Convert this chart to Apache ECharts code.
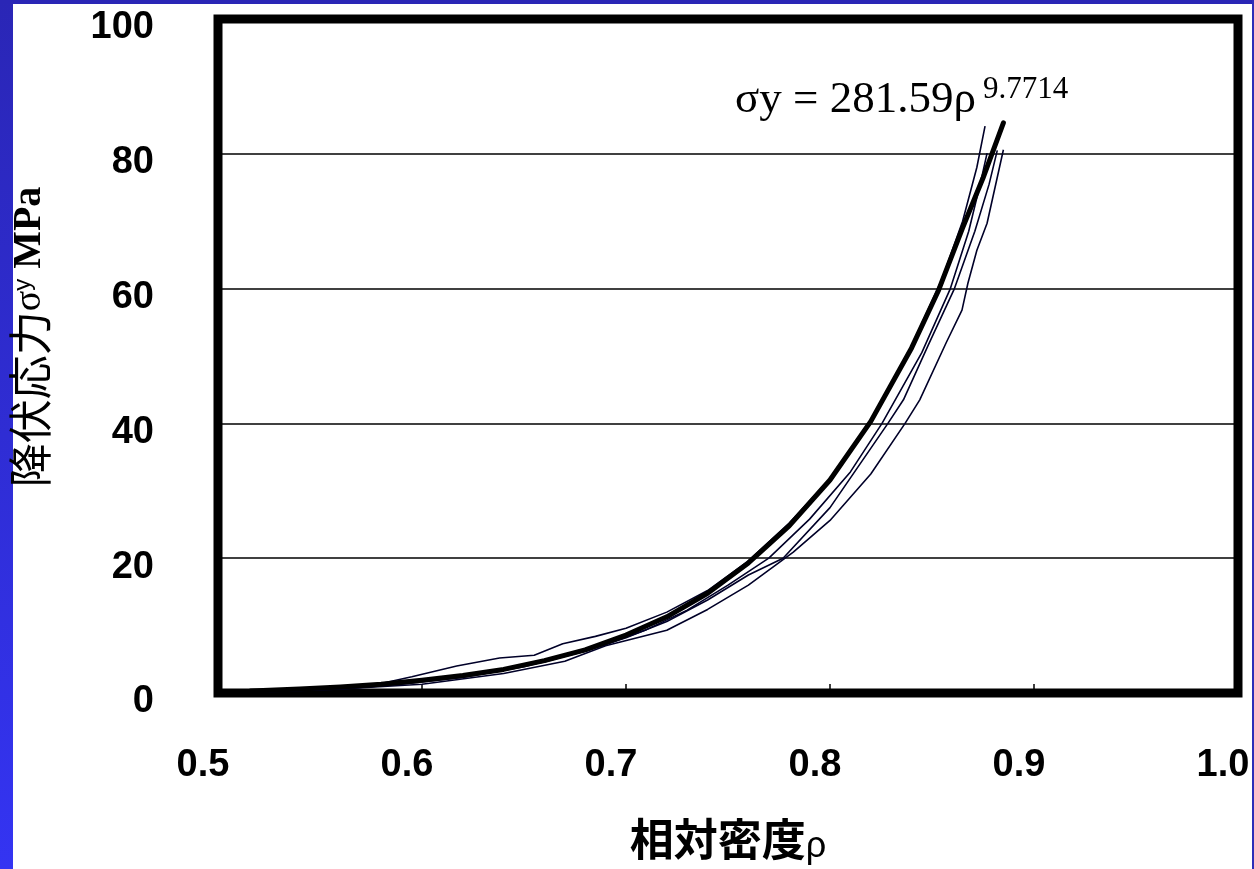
<!DOCTYPE html>
<html>
<head>
<meta charset="utf-8">
<title>降伏応力 - 相対密度</title>
<script src="https://cdn.jsdelivr.net/npm/echarts/dist/echarts.min.js"></script>
<style>
  html, body { margin: 0; padding: 0; background: #fff; }
  #chart { width: 1254px; height: 869px; }
</style>
</head>
<body>
<div id="chart"></div>
<script>
  // 軸の目盛
  var xTicks = [0.5, 0.6, 0.7, 0.8, 0.9, 1.0];
  var yTicks = [0, 20, 40, 60, 80, 100];

  // 近似曲線 (太線)
  var rhoFit = [0.516, 0.54, 0.56, 0.58, 0.60, 0.62, 0.64, 0.66, 0.68, 0.70, 0.72, 0.74, 0.76, 0.78, 0.80, 0.82, 0.84, 0.853, 0.865, 0.875, 0.885];
  var sigmaFit = [0.3, 0.6, 0.9, 1.3, 1.9, 2.6, 3.5, 4.8, 6.4, 8.6, 11.3, 14.8, 19.3, 24.8, 31.6, 40.3, 51.2, 59.6, 69, 76.4, 84.6];

  // 試験片ごとの測定値 (細線)
  var rho1 = [0.53, 0.56, 0.58, 0.595, 0.617, 0.638, 0.655, 0.669, 0.685, 0.70, 0.72, 0.74, 0.76, 0.78, 0.80, 0.82, 0.84, 0.855, 0.865, 0.872, 0.876];
  var sigma1 = [0.3, 0.8, 1.4, 2.4, 4.0, 5.2, 5.6, 7.3, 8.4, 9.6, 12.0, 15.2, 19.6, 25.2, 31.8, 40.5, 51.5, 61.5, 70, 78, 84.1];

  var rho2 = [0.52, 0.55, 0.58, 0.60, 0.63, 0.66, 0.69, 0.71, 0.73, 0.75, 0.77, 0.79, 0.81, 0.8255, 0.845, 0.859, 0.868, 0.874, 0.877];
  var sigma2 = [0.2, 0.5, 1.1, 1.7, 3.0, 4.6, 7.2, 9.4, 12.3, 16.0, 20, 25.8, 32.8, 40, 50.5, 60, 68.5, 76, 80.1];

  var rho3 = [0.525, 0.56, 0.59, 0.62, 0.65, 0.68, 0.70, 0.72, 0.74, 0.76, 0.777, 0.80, 0.8284, 0.836, 0.848, 0.861, 0.871, 0.878, 0.882];
  var sigma3 = [0.2, 0.6, 1.3, 2.3, 3.9, 6.2, 8.2, 10.6, 13.8, 17.5, 20, 27.5, 40, 43.5, 51.5, 60, 68.5, 75.5, 80.5];

  var rho4 = [0.52, 0.56, 0.60, 0.64, 0.67, 0.69, 0.72, 0.74, 0.76, 0.782, 0.80, 0.82, 0.8368, 0.844, 0.857, 0.8647, 0.8676, 0.872, 0.877, 0.885];
  var sigma4 = [0.2, 0.6, 1.3, 2.9, 4.7, 7.0, 9.3, 12.4, 16.0, 20.9, 25.6, 32.5, 40, 43.5, 52, 56.8, 60.8, 65.7, 69.7, 80.6];

  function pairs(xs, ys) {
    return xs.map(function (x, i) { return [x, ys[i]]; });
  }

  function thinLine(name, xs, ys) {
    return {
      name: name,
      type: 'line',
      showSymbol: false,
      silent: true,
      lineStyle: { color: '#000028', width: 1.6 },
      data: pairs(xs, ys)
    };
  }

  var labelFont = {
    fontSize: 38,
    fontWeight: 'bold',
    color: '#000',
    fontFamily: 'Liberation Sans'
  };

  var myChart = echarts.init(document.getElementById('chart'));

  var options = {
    backgroundColor: '#fff',
    animation: false,
    grid: {
      left: 218,
      right: 16,
      top: 19,
      bottom: 176,
      show: true,
      borderWidth: 9,
      borderColor: '#000',
      backgroundColor: 'transparent',
      outerBoundsMode: 'none'
    },
    xAxis: {
      type: 'value',
      min: xTicks[0],
      max: xTicks[xTicks.length - 1],
      interval: 0.1,
      name: '{a|相対密度}{b|ρ}',
      nameLocation: 'middle',
      nameGap: 120,
      nameTextStyle: {
        rich: {
          a: { fontSize: 44, fontWeight: 'bold', color: '#000', fontFamily: 'Noto Sans CJK JP' },
          b: { fontSize: 36, color: '#000', fontFamily: 'Liberation Sans', padding: [16, 0, 0, 0] }
        }
      },
      axisLine: { show: false },
      axisTick: {
        show: true,
        inside: true,
        length: 9,
        lineStyle: { color: '#000', width: 1.5 }
      },
      splitLine: { show: false },
      axisLabel: {
        margin: 54,
        formatter: function (v) { return '{v|' + v.toFixed(1) + '}'; },
        rich: {
          v: Object.assign({ padding: [0, 30, 0, 0] }, labelFont)
        }
      }
    },
    yAxis: {
      type: 'value',
      min: yTicks[0],
      max: yTicks[yTicks.length - 1],
      interval: 20,
      name: '{a|降伏応力}{b|σ}{c|y}{d| MPa}',
      nameLocation: 'middle',
      nameGap: 166,
      nameTextStyle: {
        rich: {
          a: { fontSize: 44, color: '#000', fontFamily: 'Noto Sans CJK JP', padding: [0, 0, 0, 38] },
          b: { fontSize: 38, color: '#000', fontFamily: 'Liberation Serif' },
          c: { fontSize: 24, color: '#000', fontFamily: 'Liberation Sans', padding: [0, 0, 14, 0] },
          d: { fontSize: 40, fontWeight: 'bold', color: '#000', fontFamily: 'Liberation Serif' }
        }
      },
      axisLine: { show: false },
      axisTick: { show: false },
      splitLine: {
        show: true,
        lineStyle: { color: '#000', width: 1.5 }
      },
      axisLabel: {
        margin: 64,
        formatter: function (v) { return '{v|' + v + '}'; },
        rich: {
          v: Object.assign({ padding: [18, 0, 0, 0] }, labelFont)
        }
      }
    },
    graphic: [
      // 左と上の青い縁
      {
        type: 'rect',
        silent: true,
        shape: { x: 0, y: 0, width: 13, height: 869 },
        style: {
          fill: new echarts.graphic.LinearGradient(0, 0, 0, 1, [
            { offset: 0, color: '#2a26b6' },
            { offset: 1, color: '#3434f2' }
          ])
        }
      },
      {
        type: 'rect',
        silent: true,
        shape: { x: 0, y: 0, width: 1254, height: 4 },
        style: { fill: '#2a26b6' }
      },
      {
        type: 'rect',
        silent: true,
        shape: { x: 1252, y: 0, width: 2, height: 869 },
        style: { fill: '#2e2eb8' }
      },
      // 近似式
      {
        type: 'text',
        left: 735,
        top: 78,
        silent: true,
        style: {
          text: 'σy = 281.59ρ',
          font: '45px "Liberation Serif"',
          fill: '#000'
        }
      },
      {
        type: 'text',
        left: 983,
        top: 74,
        silent: true,
        style: {
          text: '9.7714',
          font: '31px "Liberation Serif"',
          fill: '#000'
        }
      }
    ],
    series: [
      thinLine('試験片1', rho1, sigma1),
      thinLine('試験片2', rho2, sigma2),
      thinLine('試験片3', rho3, sigma3),
      thinLine('試験片4', rho4, sigma4),
      {
        name: '近似曲線',
        type: 'line',
        showSymbol: false,
        silent: true,
        lineStyle: { color: '#000', width: 5, cap: 'round', join: 'round' },
        data: pairs(rhoFit, sigmaFit)
      }
    ]
  };

  myChart.setOption(options);
</script>
</body>
</html>
